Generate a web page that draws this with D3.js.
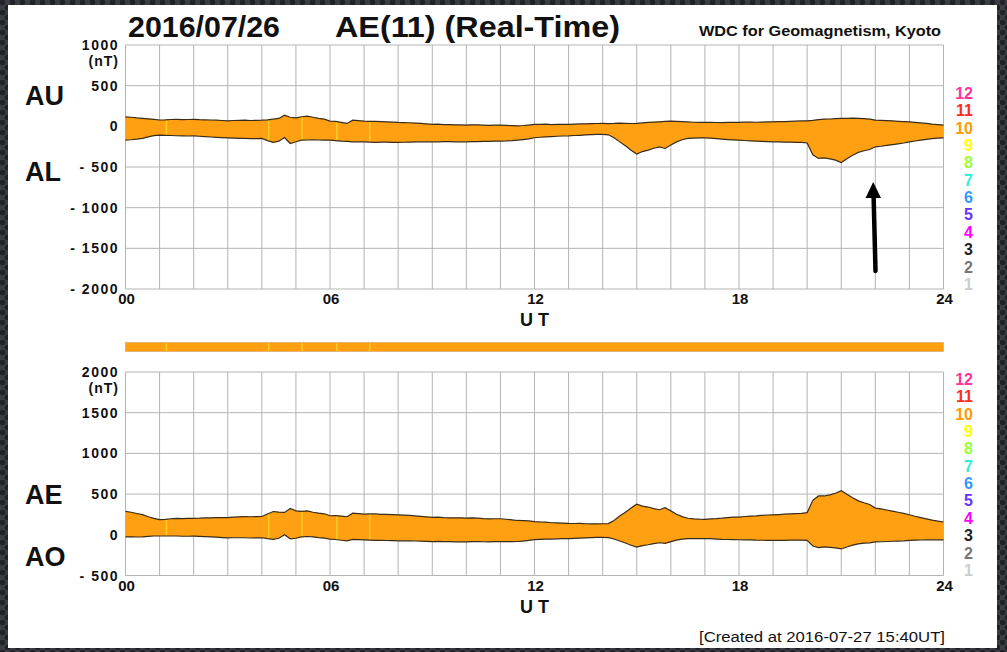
<!DOCTYPE html>
<html>
<head>
<meta charset="utf-8">
<script src="https://cdn.jsdelivr.net/npm/d3@7"></script>
<style>
  html, body { margin: 0; padding: 0; background: #2b2e33; }
  svg { display: block; font-family: "Liberation Sans", Arial, sans-serif; }
</style>
</head>
<body>
<div id="chart"></div>
<script>
// AU / AL, one value every 10 minutes (nT), one row per hour
const AU = [
  117, 112, 104, 98, 92, 86,
  78, 80, 84, 86, 82, 84,
  86, 82, 80, 78, 76, 72,
  68, 72, 74, 76, 72, 74,
  76, 80, 88, 97, 138, 112,
  105, 118, 126, 112, 98, 88,
  64, 60, 48, 36, 76, 70,
  64, 62, 60, 57, 55, 52,
  48, 46, 44, 40, 36, 30,
  23, 26, 22, 20, 18, 17,
  15, 19, 17, 14, 12, 14,
  15, 11, 8, 6, 10, 16,
  23, 24, 26, 22, 24, 25,
  23, 26, 30, 30, 33, 35,
  36, 34, 36, 40, 37, 35,
  36, 42, 48, 52, 56, 60,
  64, 62, 58, 54, 50, 49,
  48, 50, 47, 46, 48, 49,
  48, 51, 52, 50, 52, 54,
  55, 57, 59, 62, 64, 66,
  68, 74, 82, 89, 90, 94,
  97, 99, 100, 97, 94, 88,
  76, 74, 70, 66, 62, 58,
  55, 48, 42, 36, 28, 22,
  15
];
const AL = [
  -170, -165, -158, -149, -130, -115,
  -108, -110, -113, -116, -117, -119,
  -117, -122, -127, -131, -135, -139,
  -142, -144, -147, -148, -150, -150,
  -149, -175, -198, -182, -137, -211,
  -190, -170, -168, -165, -168, -170,
  -170, -176, -182, -186, -190, -190,
  -191, -194, -196, -193, -195, -197,
  -198, -196, -194, -192, -190, -191,
  -191, -190, -189, -188, -190, -191,
  -191, -189, -187, -185, -184, -183,
  -182, -180, -176, -170, -163, -155,
  -140, -134, -130, -126, -122, -119,
  -117, -113, -110, -106, -102, -100,
  -100, -104, -140, -191, -240, -293,
  -340, -310, -293, -270, -252, -272,
  -230, -191, -165, -149, -146, -143,
  -142, -146, -152, -158, -163, -167,
  -170, -174, -178, -182, -186, -189,
  -191, -192, -194, -195, -197, -198,
  -205, -350, -395, -388, -400, -416,
  -445, -400, -355, -320, -300, -285,
  -252, -245, -235, -225, -215, -205,
  -191, -180, -170, -160, -152, -146,
  -142
];
// moments where only 9 stations reported (UT hours)
const nineStationTimes = [1.2, 4.2, 5.18, 6.2, 7.17];

const hourTicks = [0, 6, 12, 18, 24];
const hourLabels = ["00", "06", "12", "18", "24"];
const upperTicks = [1000, 500, 0, -500, -1000, -1500, -2000];
const lowerTicks = [2000, 1500, 1000, 500, 0, -500];
const stationLevels = ["12", "11", "10", "9", "8", "7", "6", "5", "4", "3", "2", "1"];
const stationColors = ["#ff3399", "#ff2a1a", "#ff9900", "#ffff00", "#99ff33", "#33eedd",
  "#3399ff", "#6633ff", "#ff00ff", "#222222", "#777777", "#cccccc"];

const data = AU.map((au, i) => ({
  t: i / 6,
  au: au,
  al: AL[i],
  ae: au - AL[i],
  ao: (au + AL[i]) / 2
}));

const W = 1007, H = 652;
const orange = "#ffa012";

const svg = d3.select("#chart").append("svg")
  .attr("width", W)
  .attr("height", H);

// dark textured frame
const defs = svg.append("defs");
const pat = defs.append("pattern")
  .attr("id", "tex")
  .attr("width", 10)
  .attr("height", 10)
  .attr("patternUnits", "userSpaceOnUse");
pat.append("rect").attr("width", 10).attr("height", 10).attr("fill", "#3a3e44");
pat.append("circle").attr("cx", 2.5).attr("cy", 2.5).attr("r", 2.8).attr("fill", "#1f2226");
pat.append("circle").attr("cx", 7.5).attr("cy", 7.5).attr("r", 2.8).attr("fill", "#1f2226");

svg.append("rect").attr("width", W).attr("height", H).attr("fill", "url(#tex)");
svg.append("rect")
  .attr("x", 8).attr("y", 5)
  .attr("width", 989).attr("height", 643)
  .attr("fill", "white");

const x = d3.scaleLinear().domain([0, 24]).range([125.5, 943.5]);
const yUp = d3.scaleLinear().domain([-2000, 1000]).range([289, 45]);
const yLo = d3.scaleLinear().domain([-500, 2000]).range([575.5, 372]);

function drawPanel(y, ticks, topKey, botKey, id, offset) {
  const g = svg.append("g");

  // grid
  g.selectAll(".vgrid")
    .data(d3.range(0, 25))
    .join("line")
    .attr("x1", d => x(d)).attr("x2", d => x(d))
    .attr("y1", y.range()[1]).attr("y2", y.range()[0])
    .attr("stroke", "#b4b4b4")
    .attr("stroke-width", 1);

  g.selectAll(".hgrid")
    .data(ticks)
    .join("line")
    .attr("x1", x(0)).attr("x2", x(24))
    .attr("y1", d => y(d)).attr("y2", d => y(d))
    .attr("stroke", "#b4b4b4")
    .attr("stroke-width", 1);

  const area = d3.area()
    .x(d => x(d.t))
    .y0(d => y(d[botKey]))
    .y1(d => y(d[topKey]));

  defs.append("clipPath").attr("id", id)
    .append("path").attr("d", area(data));

  g.append("path")
    .attr("d", area(data))
    .attr("fill", orange);

  // 9-station stripes
  g.append("g").attr("clip-path", `url(#${id})`)
    .selectAll("line")
    .data(nineStationTimes)
    .join("line")
    .attr("x1", d => x(d)).attr("x2", d => x(d))
    .attr("y1", y.range()[1]).attr("y2", y.range()[0])
    .attr("stroke", "#ffcc22")
    .attr("stroke-width", 1.5);

  [topKey, botKey].forEach(k => {
    g.append("path")
      .attr("d", d3.line().x(d => x(d.t)).y(d => y(d[k]))(data))
      .attr("fill", "none")
      .attr("stroke", "#3a2c18")
      .attr("stroke-width", 1.2);
  });

  // y labels
  g.selectAll(".ylab")
    .data(ticks)
    .join("text")
    .attr("x", 119)
    .attr("y", d => y(d) + 5)
    .attr("text-anchor", "end")
    .attr("font-size", "14px")
    .attr("font-weight", "bold")
    .attr("letter-spacing", "1.5px")
    .attr("fill", "#111")
    .text(d => d < 0 ? "- " + Math.abs(d) : d);

  g.append("text")
    .attr("x", 119)
    .attr("y", y(ticks[0]) + 21)
    .attr("text-anchor", "end")
    .attr("font-size", "14px")
    .attr("font-weight", "bold")
    .attr("letter-spacing", "1px")
    .attr("fill", "#111")
    .text("(nT)");

  // x labels
  g.selectAll(".xlab")
    .data(hourTicks)
    .join("text")
    .attr("x", d => x(d) + 1)
    .attr("y", y.range()[0] + 15)
    .attr("text-anchor", "middle")
    .attr("font-size", "15px")
    .attr("font-weight", "bold")
    .attr("fill", "#111")
    .text((d, i) => hourLabels[i]);

  g.append("text")
    .attr("x", x(12))
    .attr("y", y.range()[0] + 37)
    .attr("text-anchor", "middle")
    .attr("font-size", "18px")
    .attr("font-weight", "bold")
    .attr("fill", "#111")
    .text("U T");

  // station count key
  g.selectAll(".key")
    .data(stationLevels)
    .join("text")
    .attr("x", 973)
    .attr("y", (d, i) => 99 + offset + i * 17.35)
    .attr("text-anchor", "end")
    .attr("font-size", "16px")
    .attr("font-weight", "bold")
    .attr("fill", (d, i) => stationColors[i])
    .text(d => d);
}

drawPanel(yUp, upperTicks, "au", "al", "clipUp", 0);
drawPanel(yLo, lowerTicks, "ae", "ao", "clipLo", 286);

// station band between panels
svg.append("rect")
  .attr("x", x(0)).attr("y", 342.5)
  .attr("width", x(24) - x(0)).attr("height", 9)
  .attr("fill", orange)
  .attr("stroke", "#d8a060")
  .attr("stroke-width", 0.6);
svg.selectAll(".bandStripe")
  .data(nineStationTimes)
  .join("line")
  .attr("x1", d => x(d)).attr("x2", d => x(d))
  .attr("y1", 343).attr("y2", 351)
  .attr("stroke", "#ffcc22")
  .attr("stroke-width", 1.5);

// component labels
[["AU", 105], ["AL", 181], ["AE", 504], ["AO", 566]].forEach(([t, yy]) => {
  svg.append("text")
    .attr("x", 25).attr("y", yy)
    .attr("font-size", "27px")
    .attr("font-weight", "bold")
    .attr("fill", "#111")
    .text(t);
});

// titles
svg.append("text")
  .attr("x", 128).attr("y", 37)
  .attr("font-size", "29px")
  .attr("font-weight", "bold")
  .attr("textLength", 152)
  .attr("lengthAdjust", "spacingAndGlyphs")
  .attr("fill", "#111")
  .text("2016/07/26");

svg.append("text")
  .attr("x", 335).attr("y", 37)
  .attr("font-size", "29px")
  .attr("font-weight", "bold")
  .attr("textLength", 285)
  .attr("lengthAdjust", "spacingAndGlyphs")
  .attr("fill", "#111")
  .text("AE(11) (Real-Time)");

svg.append("text")
  .attr("x", 699).attr("y", 36)
  .attr("font-size", "14px")
  .attr("font-weight", "bold")
  .attr("textLength", 242)
  .attr("lengthAdjust", "spacingAndGlyphs")
  .attr("fill", "#111")
  .text("WDC for Geomagnetism, Kyoto");

svg.append("text")
  .attr("x", 699).attr("y", 642)
  .attr("font-size", "14px")
  .attr("textLength", 246)
  .attr("lengthAdjust", "spacingAndGlyphs")
  .attr("fill", "#111")
  .text("[Created at 2016-07-27 15:40UT]");

// annotation arrow
svg.append("line")
  .attr("x1", 875.5).attr("y1", 271)
  .attr("x2", 873.6).attr("y2", 196)
  .attr("stroke", "#000")
  .attr("stroke-width", 4.5)
  .attr("stroke-linecap", "round");
svg.append("path")
  .attr("d", "M873.2,182 L881,198 L865.5,198 Z")
  .attr("fill", "#000");
</script>
</body>
</html>
